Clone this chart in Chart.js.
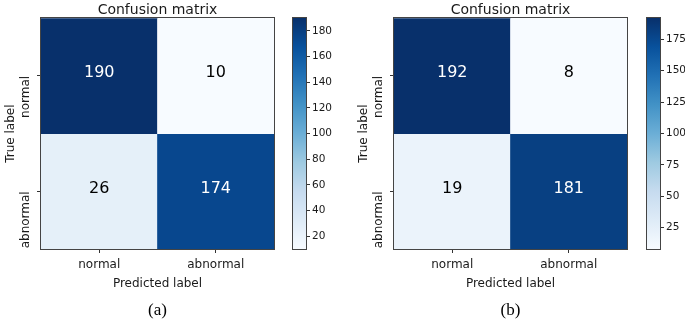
<!DOCTYPE html>
<html>
<head>
<meta charset="utf-8">
<script src="https://cdn.jsdelivr.net/npm/chart.js@4.4.1/dist/chart.umd.min.js"></script>
<style>
  html, body { margin: 0; padding: 0; background: #fff; }
  #painel { position: relative; width: 685px; height: 320px; overflow: hidden; }
  canvas { position: absolute; top: 0; }
</style>
</head>
<body>
<div id="painel">
  <canvas id="matrizA" width="285" height="320" style="left:0px"></canvas>
  <canvas id="barraA" width="57" height="320" style="left:285px"></canvas>
  <canvas id="matrizB" width="285" height="320" style="left:353px"></canvas>
  <canvas id="barraB" width="47" height="320" style="left:638px"></canvas>
</div>
<script>
// Dados das matrizes de confusão
const classes = ["normal", "abnormal"];
const matrizA = [[190, 10], [26, 174]];
const matrizB = [[192, 8], [19, 181]];
const ticksBarraA = [20, 40, 60, 80, 100, 120, 140, 160, 180];
const ticksBarraB = [25, 50, 75, 100, 125, 150, 175];

const fonte = "DejaVu Sans";
const corTexto = "#1a1a1a";

// Mapa de cores "Blues" (matplotlib)
const paradasBlues = ["#f7fbff", "#deebf7", "#c6dbef", "#9ecae1", "#6baed6",
  "#4292c6", "#2171b5", "#08519c", "#08306b"];

function hexParaRgb(hex) {
  return [1, 3, 5].map(k => parseInt(hex.substr(k, 2), 16));
}

function corBlues(t) {
  t = Math.max(0, Math.min(1, t));
  const pos = t * (paradasBlues.length - 1);
  const i = Math.min(Math.floor(pos), paradasBlues.length - 2);
  const f = pos - i;
  const a = hexParaRgb(paradasBlues[i]);
  const b = hexParaRgb(paradasBlues[i + 1]);
  const c = a.map((v, k) => Math.round(v + (b[k] - v) * f));
  return `rgb(${c[0]}, ${c[1]}, ${c[2]})`;
}

// Moldura em volta da área do gráfico
const moldura = {
  id: "moldura",
  afterDraw(chart) {
    const { ctx, chartArea: a } = chart;
    ctx.save();
    ctx.strokeStyle = "#444";
    ctx.lineWidth = 1;
    ctx.strokeRect(Math.round(a.left) - 0.5, Math.round(a.top) - 0.5,
      Math.round(a.width) + 1, Math.round(a.height) + 1);
    ctx.restore();
  }
};

// Escreve o valor no centro de cada célula
const textoCelulas = {
  id: "textoCelulas",
  afterDatasetsDraw(chart) {
    const ctx = chart.ctx;
    const todos = chart.data.datasets.flatMap(d => d.valores);
    const limiar = Math.max(...todos) / 2;
    ctx.save();
    ctx.font = `16px "${fonte}"`;
    ctx.textAlign = "center";
    ctx.textBaseline = "alphabetic";
    chart.data.datasets.forEach((ds, d) => {
      chart.getDatasetMeta(d).data.forEach((barra, j) => {
        const { x, y, base } = barra.getProps(["x", "y", "base"], true);
        const v = ds.valores[j];
        ctx.fillStyle = v > limiar ? "#ffffff" : "#000000";
        ctx.fillText(String(v), x, (y + base) / 2 + 1.5);
      });
    });
    ctx.restore();
  }
};

function criarMatriz(id, matriz, legenda) {
  const valores = matriz.flat();
  const vmin = Math.min(...valores);
  const vmax = Math.max(...valores);

  const datasets = matriz.map((linha, i) => ({
    label: classes[i],
    data: linha.map(() => [i, i + 1]),
    valores: linha,
    backgroundColor: linha.map(v => corBlues((v - vmin) / (vmax - vmin))),
    borderWidth: 0,
    barPercentage: 1,
    categoryPercentage: 1,
    grouped: false
  }));

  new Chart(document.getElementById(id), {
    type: "bar",
    data: { labels: classes, datasets: datasets },
    options: {
      responsive: false,
      animation: false,
      layout: { padding: { left: 0, top: 0, right: 11, bottom: 0 } },
      plugins: {
        legend: { display: false },
        tooltip: { enabled: false },
        title: {
          display: true,
          text: "Confusion matrix",
          fullSize: false,
          color: corTexto,
          font: { family: fonte, size: 14, weight: "normal", lineHeight: 1 },
          padding: { top: 1, bottom: 1 }
        },
        subtitle: {
          display: true,
          text: legenda,
          position: "bottom",
          fullSize: false,
          color: "#000",
          font: { family: "Liberation Serif", size: 17, lineHeight: 1 },
          padding: { top: 11.5, bottom: 0.5 }
        }
      },
      scales: {
        x: {
          type: "category",
          offset: true,
          grid: { display: true, drawOnChartArea: false, offset: false, tickLength: 4, color: "#333" },
          border: { display: false },
          ticks: { color: corTexto, font: { family: fonte, size: 12 }, padding: 5 },
          title: {
            display: true,
            text: "Predicted label",
            color: corTexto,
            font: { family: fonte, size: 12 },
            padding: { top: 0, bottom: 0 }
          },
          afterFit: s => { s.height = 42; }
        },
        y: {
          type: "linear",
          reverse: true,
          min: 0,
          max: 2,
          afterBuildTicks: s => { s.ticks = classes.map((c, i) => ({ value: i + 0.5 })); },
          grid: { display: true, drawOnChartArea: false, tickLength: 4, color: "#333" },
          border: { display: false },
          ticks: {
            minRotation: 90,
            maxRotation: 90,
            color: corTexto,
            font: { family: fonte, size: 12 },
            padding: 11,
            callback: (v, i) => classes[i]
          },
          title: {
            display: true,
            text: "True label",
            color: corTexto,
            font: { family: fonte, size: 12 },
            padding: { top: 3.5, bottom: 0 }
          },
          afterFit: s => { s.width = 41; }
        }
      }
    },
    plugins: [moldura, textoCelulas]
  });
}

function criarBarraCores(id, matriz, ticksBarra, padEsq, larguraEixo) {
  const valores = matriz.flat();
  const vmin = Math.min(...valores);
  const vmax = Math.max(...valores);

  new Chart(document.getElementById(id), {
    type: "bar",
    data: {
      labels: [""],
      datasets: [{
        data: [[vmin, vmax]],
        backgroundColor: (c) => {
          const area = c.chart.chartArea;
          if (!area) return paradasBlues[0];
          const g = c.chart.ctx.createLinearGradient(0, area.bottom, 0, area.top);
          paradasBlues.forEach((cor, k) => g.addColorStop(k / (paradasBlues.length - 1), cor));
          return g;
        },
        borderWidth: 0,
        barPercentage: 1,
        categoryPercentage: 1
      }]
    },
    options: {
      responsive: false,
      animation: false,
      layout: { padding: { left: padEsq, top: 18, right: 0, bottom: 71 } },
      plugins: { legend: { display: false }, tooltip: { enabled: false } },
      scales: {
        x: { display: false },
        y: {
          position: "right",
          min: vmin,
          max: vmax,
          afterBuildTicks: s => { s.ticks = ticksBarra.map(v => ({ value: v })); },
          grid: { drawOnChartArea: false, tickLength: 4, color: "#333" },
          border: { display: false },
          ticks: { color: corTexto, font: { family: fonte, size: 10.5 }, padding: 2 },
          afterFit: s => { s.width = larguraEixo; }
        }
      }
    },
    plugins: [moldura]
  });
}

criarMatriz("matrizA", matrizA, "(a)");
criarBarraCores("barraA", matrizA, ticksBarraA, 8, 36);
criarMatriz("matrizB", matrizB, "(b)");
criarBarraCores("barraB", matrizB, ticksBarraB, 9, 25);
</script>
</body>
</html>
